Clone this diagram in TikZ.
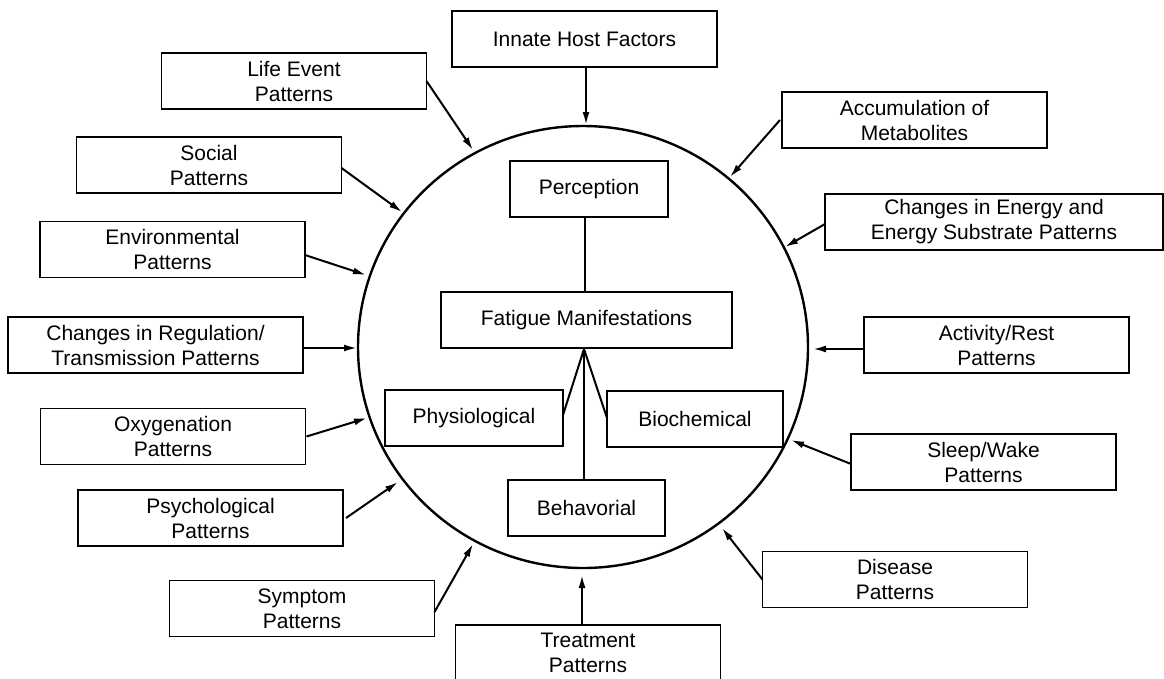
\documentclass[tikz,border=0pt]{standalone}
\usepackage{fontspec}
\setmainfont{Liberation Sans}
\usetikzlibrary{arrows.meta,shapes.geometric}
\begin{document}
\begin{tikzpicture}[x=1pt,y=-1pt,
  box/.style={draw, line width=1.3pt, inner sep=0pt, outer sep=0pt, align=center,
    minimum height=56pt, minimum width=265pt, font=\fontsize{21}{25}\selectfont},
  arr/.style={line width=2pt, -{Latex[length=13pt,width=7pt]}},
  link/.style={line width=2pt}]
\useasboundingbox (0,0) rectangle (1164,678);
\fill[white] (0,0) rectangle (1164,678);
% big circle
\node[draw, line width=2.4pt, ellipse, minimum width=450pt, minimum height=442pt, inner sep=0pt] (circ) at (583,347) {};
% outer boxes
\node[box] (innate) at (584.5,39) {Innate Host Factors};
\node[box] (life) at (294,81) {Life Event\\Patterns};
\node[box] (accum) at (914.5,120) {Accumulation of\\Metabolites};
\node[box] (social) at (209,165) {Social\\Patterns};
\node[box, minimum width=338pt] (energy) at (994,222) {Changes in Energy and\\Energy Substrate Patterns};
\node[box] (env) at (172.5,249.5) {Environmental\\Patterns};
\node[box, minimum width=295pt] (reg) at (155.5,345) {Changes in Regulation/\\Transmission Patterns};
\node[box] (act) at (996.5,345) {Activity/Rest\\Patterns};
\node[box] (oxy) at (173,436.5) {Oxygenation\\Patterns};
\node[box] (sleep) at (983.5,462) {Sleep/Wake\\Patterns};
\node[box] (psych) at (210.5,518) {Psychological\\Patterns};
\node[box] (disease) at (895,579.5) {Disease\\Patterns};
\node[box] (symptom) at (302,608.5) {Symptom\\Patterns};
\node[box] (treat) at (588,653) {Treatment\\Patterns};
% inner boxes
\node[box, minimum width=158pt] (perc) at (589,189) {Perception};
\node[box, minimum width=291pt] (fat) at (586.5,320) {Fatigue Manifestations};
\node[box, minimum width=178pt] (phys) at (474,418) {Physiological};
\node[box, minimum width=176pt] (bio) at (695,419) {Biochemical};
\node[box, minimum width=157pt] (beh) at (586.5,508) {Behavorial};
% arrow tips on circle
\coordinate (tInnate) at (586,125);
\coordinate (tLife) at (473,150);
\coordinate (tSocial) at (402,212);
\coordinate (tEnv) at (366,275);
\coordinate (tReg) at (357,348);
\coordinate (tOxy) at (367,418);
\coordinate (tPsych) at (398,482);
\coordinate (tSymptom) at (473,544);
\coordinate (tTreat) at (582,575);
\coordinate (tDisease) at (722,528);
\coordinate (tSleep) at (791,440);
\coordinate (tAct) at (813,349);
\coordinate (tEnergy) at (785,247);
\coordinate (tAccum) at (730,177);
% arrows
\draw[arr] ([xshift=1.5pt]innate.south) -- (tInnate);
\draw[arr] (life.east) -- (tLife);
\draw[arr] ([yshift=-3pt]social.east) -- (tSocial);
\draw[arr] ([yshift=-5.5pt]env.east) -- (tEnv);
\draw[arr] ([yshift=-3pt]reg.east) -- (tReg);
\draw[arr] ([xshift=1pt]oxy.east) -- (tOxy);
\draw[arr] ([xshift=3pt]psych.east) -- (tPsych);
\draw[arr] ([yshift=-3.5pt]symptom.east) -- (tSymptom);
\draw[arr] ([xshift=-6pt]treat.north) -- (tTreat);
\draw[arr] (disease.west) -- (tDisease);
\draw[arr] ([yshift=-2pt]sleep.west) -- (tSleep);
\draw[arr] ([yshift=-4pt]act.west) -- (tAct);
\draw[arr] ([yshift=-2pt]energy.west) -- (tEnergy);
\draw[arr] ([xshift=-2pt]accum.west) -- (tAccum);
% inner links
\coordinate (apex) at (584,349);
\draw[link] ([xshift=-4pt]perc.south) -- ([xshift=-1.5pt]fat.north);
\draw[link] (apex) -- ([yshift=3pt]phys.east);
\draw[link] (apex) -- ([yshift=1pt]bio.west);
\draw[link] (apex) -- ([xshift=-2.5pt]beh.north);
\end{tikzpicture}
\end{document}
